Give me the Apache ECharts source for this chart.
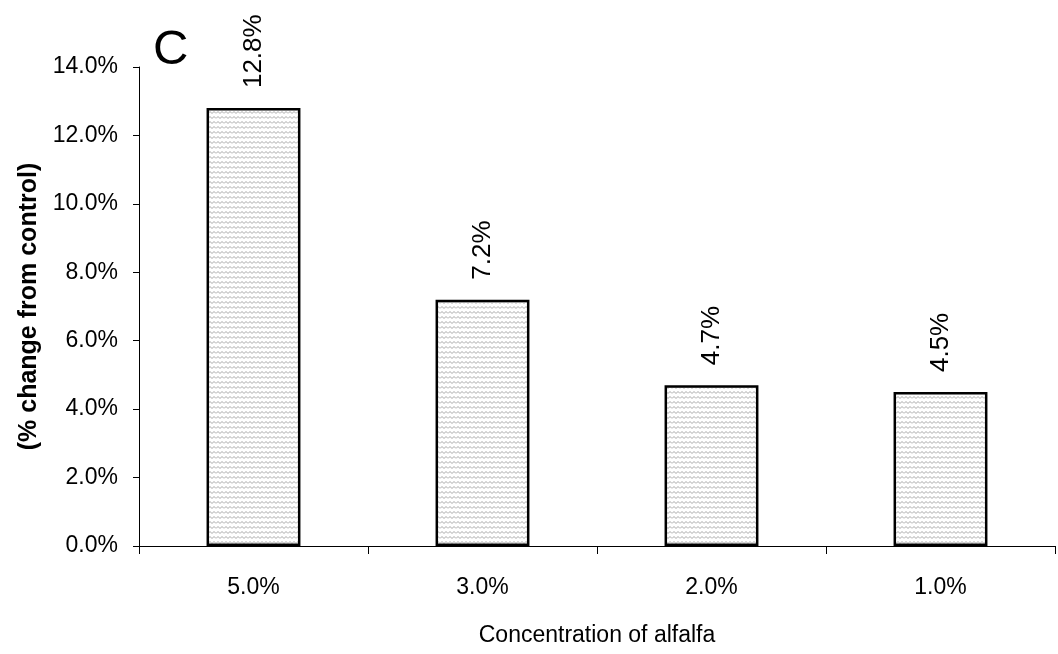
<!DOCTYPE html>
<html><head><meta charset="utf-8">
<script src="https://cdn.jsdelivr.net/npm/echarts@6/dist/echarts.min.js"></script>
<style>html,body{margin:0;padding:0;background:#fff}#c{width:1058px;height:654px}</style>
</head><body><div id="c"></div>
<script>
const categories = ['5.0%', '3.0%', '2.0%', '1.0%'];
const values = [12.8, 7.2, 4.7, 4.5];
const yTicks = [0, 2, 4, 6, 8, 10, 12, 14];

const REG = '"Liberation Sans", Arial';

function makePattern() {
  const c = document.createElement('canvas');
  c.width = 8; c.height = 5;
  const g = c.getContext('2d');
  g.fillStyle = '#fff'; g.fillRect(0, 0, 8, 5);
  g.strokeStyle = '#a8a8a8'; g.lineWidth = 1;
  g.beginPath();
  g.moveTo(0, 3.5); g.lineTo(2, 1.5); g.lineTo(4, 3.5); g.lineTo(6, 1.5); g.lineTo(8, 3.5);
  g.stroke();
  return c;
}

const chart = echarts.init(document.getElementById('c'));
chart.setOption({
  animation: false,
  grid: { left: 139, right: 3, top: 67, bottom: 108 },
  graphic: [{ type: 'text', left: 153, top: 26, style: { text: 'C', font: '49px "Liberation Sans", Arial', fill: '#000' } }],
  xAxis: {
    type: 'category', data: categories,
    axisLine: { lineStyle: { color: '#000', width: 1 } },
    axisTick: { show: true, inside: false, length: 8, alignWithLabel: false, lineStyle: { color: '#000' } },
    axisLabel: { color: '#000', fontSize: 23, margin: 30, fontFamily: REG },
    name: 'Concentration of alfalfa', nameLocation: 'middle', nameGap: 78,
    nameTextStyle: { color: '#000', fontSize: 23, fontFamily: REG }
  },
  yAxis: {
    type: 'value', min: 0, max: 14, interval: 2,
    axisLine: { show: true, lineStyle: { color: '#000', width: 1 } },
    axisTick: { show: true, length: 6, lineStyle: { color: '#000' } },
    splitLine: { show: false },
    axisLabel: { color: '#000', fontSize: 23, margin: 21, fontFamily: REG, formatter: v => v.toFixed(1) + '%' },
    name: '(% change from control)', nameLocation: 'middle', nameGap: 96, nameRotate: 90,
    nameTextStyle: { color: '#000', fontSize: 25, fontWeight: 'bold', fontFamily: REG }
  },
  series: [{
    type: 'bar', data: values, barWidth: '41%',
    itemStyle: { color: { image: makePattern(), repetition: 'repeat' }, borderColor: '#000', borderWidth: 2.5 },
    label: { show: true, position: 'top', rotate: 90, align: 'left', verticalAlign: 'middle', distance: 20,
      color: '#000', fontSize: 26, fontFamily: REG, formatter: p => p.value.toFixed(1) + '%' }
  }]
});
</script></body></html>
